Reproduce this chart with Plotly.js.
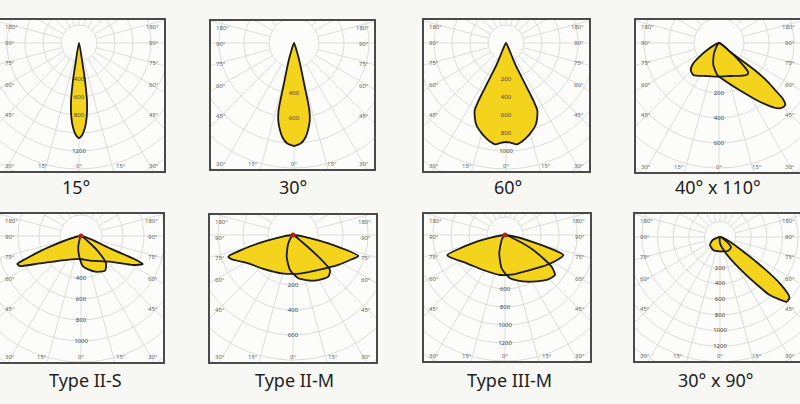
<!DOCTYPE html>
<html><head><meta charset="utf-8">
<script src="https://cdn.plot.ly/plotly-3.0.1.min.js"></script>
<style>html,body{margin:0;padding:0;background:#f7f7f4;} #chart{width:800px;height:404px;}</style>
</head><body><div id="chart"></div>
<script>
// ================= DATA =================
const captions = ['15°', '30°', '60°', '40° x 110°', 'Type II-S', 'Type II-M', 'Type III-M', '30° x 90°'];

// Each lobe: polar angle (deg, 0 = straight down, + = right) and relative intensity
const beam15Angle = [-10, -9.7, -9, -7.7, -6, -4, -2, 0, 2, 4, 6, 7.7, 9, 9.7, 10];
const beam15Cd    = [0, 20, 40, 60, 74, 85, 92, 95, 92, 85, 74, 60, 40, 20, 0];

const beam30Angle = [-21, -18.5, -16.5, -15, -14, -13.6, -13.3, -12.8, -11.5, -9.5, -7, -4, 0, 4, 7, 9.5, 11.5, 12.8, 13.3, 13.6, 14, 15, 16.5, 18.5, 21];
const beam30Cd    = [0, 10, 20, 30, 40, 50, 60, 70, 79, 87, 95, 100.5, 103, 100.5, 95, 87, 79, 70, 60, 50, 40, 30, 20, 10, 0];

const beam60Angle = [-28, -26, -24, -23.5, -24.6, -25, -25.3, -25.5, -25, -23, -20, -15.5, -12, -9, -6, -3, 0, 3, 6, 9, 12, 15.5, 20, 23, 25, 25.5, 25.3, 25, 24.6, 23.5, 24, 26, 28];
const beam60Cd    = [0, 6, 15, 25, 38, 45, 55, 64, 74, 80, 87, 93, 97, 100, 102, 100, 99, 100, 102, 100, 97, 93, 87, 80, 74, 64, 55, 45, 38, 25, 15, 6, 0];

const asymMainAngle = [-30, -25.9, -14.5, -3, 7, 24, 35, 41.5, 44.5, 47.1, 48.8, 49.8, 51.5, 52.7, 52.5, 51.7, 53];
const asymMainCd    = [0, 11.5, 22.7, 32, 37, 52, 72, 87, 90.5, 90.5, 85, 75.5, 62, 47.4, 30, 14, 0];
const asymSideAngle = [-62, -58.1, -51.7, -46.3, -38.8, -20.4, -1.2, 18.4, 40.9, 45, 48.3, 51.7, 53];
const asymSideCd    = [0, 16.5, 32.7, 39.1, 41, 35.2, 33.7, 34.8, 42.3, 41.4, 28.1, 14, 0];

const t2sMainAngle = [-76, -71, -67.5, -66.3, -63.8, -56.3, -30.8, -2.5, 20, 48.5, 61, 65.6, 66.5, 67, 72];
const t2sMainCd    = [0, 32.8, 60, 69.6, 68, 49.3, 27.9, 23, 26.3, 38.7, 59.8, 67.8, 60, 31.5, 0];
const t2sSideAngle = [-20, -14.2, -4.7, 4.3, 21.4, 34.7, 42.5, 47.8, 52, 55];
const t2sSideCd    = [0, 11, 20.8, 30.8, 38.3, 42.2, 37, 23.4, 9.3, 0];

const t2mMainAngle = [-80, -76.5, -71.5, -68.4, -57.7, -43.2, -16.4, 12.8, 35.9, 56.5, 67.5, 72.2, 76.8, 80];
const t2mMainCd    = [0, 35.7, 68.2, 65.9, 52.9, 45.7, 39.9, 39.3, 43.2, 54.3, 63.5, 68.6, 36.3, 0];
const t2mSideAngle = [-35, -29.5, -16.2, -4.9, 7, 25.7, 40.3, 46.6, 49.4, 52.4, 55];
const t2mSideCd    = [0, 9.5, 22.6, 35.1, 43.6, 50.7, 54.6, 50.9, 33.3, 11, 0];

const t3mMainAngle = [-80, -76.7, -70.9, -67.9, -53.5, -31.8, -7.1, 14.4, 35.5, 54.3, 67, 71.1, 75.3, 79];
const t3mMainCd    = [0, 29.1, 61.1, 59.3, 47.6, 41.2, 40.3, 40.3, 43, 51.4, 59.7, 61.6, 32.8, 0];
const t3mSideAngle = [-38, -33.4, -17.3, -5.7, 6.6, 24.9, 42.8, 51.3, 55.8, 62.1, 66.7, 69];
const t3mSideCd    = [0, 6, 19.2, 33.5, 43.6, 51.5, 61.3, 64, 56.4, 32, 10.9, 0];

const asym2MainAngle = [-5, 0, 21, 34.5, 40.5, 43.2, 45.9, 49, 52, 55.5, 64.8, 68];
const asym2MainCd    = [0, 6.3, 18.5, 46, 76, 85, 93, 92, 77, 45, 11, 0];
const asym2SideAngle = [-75, -67.7, -51.3, -27.3, 0, 31.2, 46.9, 55, 60];
const asym2SideCd    = [0, 7.9, 12.8, 14.6, 14.3, 16, 15.1, 8.2, 0];

// ring value labels (intensity scale) along the 0° ray
const ringIdx15 = [2, 3, 4, 6];          const ringTxt15 = ['400', '600', '800', '1200'];
const ringIdx30 = [2, 3];                const ringTxt30 = ['400', '600'];
const ringIdx60 = [2, 3, 4, 5, 6];       const ringTxt60 = ['200', '400', '600', '800', '1000'];
const ringIdx40x110 = [2, 3, 4];         const ringTxt40x110 = ['200', '400', '600'];
const ringIdxT2S = [2, 3, 4, 5];         const ringTxtT2S = ['400', '600', '800', '1000'];
const ringIdxT2M = [2, 3, 4];            const ringTxtT2M = ['200', '400', '600'];
const ringIdxT3M = [3, 4, 5, 6];         const ringTxtT3M = ['600', '800', '1000', '1200'];
const ringIdx30x90 = [2, 3, 4, 5, 6, 7]; const ringTxt30x90 = ['200', '400', '600', '800', '1000', '1200'];

// angle labels on the frame
const sideAngleLabels = ['180°', '90°', '75°', '60°', '45°'];
const bottomAngleLabels = ['30°', '15°', '0°', '15°', '30°'];

// ================= LAYOUT / GEOMETRY =================
const W = 800, H = 404;
const panels = [
  {box: [0, 20, 164, 171],   c: [79, 43],   step: 18,   lobes: [[beam15Angle, beam15Cd]], ri: ringIdx15, rt: ringTxt15, dot: false, cap: [76, 187]},
  {box: [211, 21, 374, 169], c: [294, 43],  step: 25,   lobes: [[beam30Angle, beam30Cd]], ri: ringIdx30, rt: ringTxt30, dot: false, cap: [293, 187]},
  {box: [424, 20, 589, 171], c: [506, 43],  step: 18,   lobes: [[beam60Angle, beam60Cd]], ri: ringIdx60, rt: ringTxt60, dot: false, cap: [508, 187]},
  {box: [636, 20, 800, 172], c: [719, 43],  step: 25,   lobes: [[asymMainAngle, asymMainCd], [asymSideAngle, asymSideCd]], ri: ringIdx40x110, rt: ringTxt40x110, dot: false, cap: [718, 187]},
  {box: [0, 214, 163, 362],  c: [81, 236],  step: 21,   lobes: [[t2sMainAngle, t2sMainCd], [t2sSideAngle, t2sSideCd]], ri: ringIdxT2S, rt: ringTxtT2S, dot: true, cap: [85, 380]},
  {box: [210, 215, 376, 362],c: [293, 235], step: 25,   lobes: [[t2mMainAngle, t2mMainCd], [t2mSideAngle, t2mSideCd]], ri: ringIdxT2M, rt: ringTxtT2M, dot: true, cap: [294, 380]},
  {box: [424, 214, 590, 361],c: [505, 235], step: 18,   lobes: [[t3mMainAngle, t3mMainCd], [t3mSideAngle, t3mSideCd]], ri: ringIdxT3M, rt: ringTxtT3M, dot: true, cap: [509, 380]},
  {box: [635, 214, 800, 361],c: [720, 237], step: 15.6, lobes: [[asym2MainAngle, asym2MainCd], [asym2SideAngle, asym2SideCd]], ri: ringIdx30x90, rt: ringTxt30x90, dot: false, cap: [715, 380]}
];

const rad = d => d * Math.PI / 180;
const px = (a, r) => r * Math.sin(rad(a));
const py = (a, r) => -r * Math.cos(rad(a));

const traces = [];
const layout = {
  width: W, height: H, margin: {l: 0, r: 0, t: 0, b: 0},
  paper_bgcolor: '#f7f7f4', plot_bgcolor: '#fcfcfa',
  showlegend: false, annotations: [], font: {family: 'Noto Sans, sans-serif'}
};

panels.forEach((p, i) => {
  const n = i === 0 ? '' : String(i + 1);
  const xa = 'x' + n, ya = 'y' + n;
  const [x0, y0, x1, y1] = p.box;
  const [cx, cy] = p.c;
  const axCommon = {showgrid: false, zeroline: false, showticklabels: false, ticks: '',
    showline: true, mirror: true, linecolor: '#4a4a4a', linewidth: 1.6, fixedrange: true};
  layout['xaxis' + n] = Object.assign({}, axCommon, {domain: [x0 / W, x1 / W], range: [x0 - cx, x1 - cx], anchor: ya});
  layout['yaxis' + n] = Object.assign({}, axCommon, {domain: [1 - y1 / H, 1 - y0 / H], range: [-(y1 - cy), cy - y0], anchor: xa});

  // polar grid: rings
  const rMax = 175;
  const gx = [], gy = [];
  for (let k = 1; k * p.step <= rMax; k++) {
    const r = k * p.step;
    for (let a = 0; a <= 360; a += 3) { gx.push(px(a, r)); gy.push(py(a, r)); }
    gx.push(null); gy.push(null);
  }
  // rays
  for (let a = 0; a < 360; a += 15) {
    gx.push(px(a, p.step), px(a, rMax), null);
    gy.push(py(a, p.step), py(a, rMax), null);
  }
  traces.push({type: 'scatter', mode: 'lines', x: gx, y: gy, xaxis: xa, yaxis: ya,
    line: {color: '#dcdcd8', width: 1}, hoverinfo: 'skip'});

  // lobe fills
  p.lobes.forEach(([ang, cd]) => {
    traces.push({type: 'scatter', mode: 'lines', xaxis: xa, yaxis: ya,
      x: ang.map((a, j) => px(a, cd[j])), y: ang.map((a, j) => py(a, cd[j])),
      fill: 'toself', fillcolor: '#f4d31c', line: {width: 0, shape: 'spline', smoothing: 0.6}, hoverinfo: 'skip'});
  });
  // lobe outlines
  p.lobes.forEach(([ang, cd]) => {
    traces.push({type: 'scatter', mode: 'lines', xaxis: xa, yaxis: ya,
      x: ang.map((a, j) => px(a, cd[j])), y: ang.map((a, j) => py(a, cd[j])),
      line: {color: '#1c1a14', width: 1.8, shape: 'spline', smoothing: 0.6}, hoverinfo: 'skip'});
  });
  // ring labels
  traces.push({type: 'scatter', mode: 'text', xaxis: xa, yaxis: ya,
    x: p.ri.map(() => 0), y: p.ri.map(k => -k * p.step), text: p.rt,
    textfont: {size: 6, color: '#444'}, hoverinfo: 'skip'});
  if (p.dot) {
    traces.push({type: 'scatter', mode: 'markers', xaxis: xa, yaxis: ya, x: [0], y: [0],
      marker: {color: '#b3261e', size: 5}, hoverinfo: 'skip'});
  }

  // frame angle labels
  const rows = [7, 23, 43, 65, 95];
  const lab = (x, y, t, anchor) => layout.annotations.push({xref: 'paper', yref: 'paper', x: x / W, y: 1 - y / H,
    text: t, showarrow: false, xanchor: anchor, yanchor: 'middle', font: {size: 6, color: '#666'}});
  rows.forEach((dy, j) => {
    lab(x0 + 3, y0 + dy, sideAngleLabels[j], 'left');
    lab(x1 - 3, y0 + dy, sideAngleLabels[j], 'right');
  });
  const w = x1 - x0;
  const bx = [x0 + 3, x0 + 0.26 * w, cx, x1 - 0.26 * w, x1 - 3];
  const ba = ['left', 'center', 'center', 'center', 'right'];
  bx.forEach((x, j) => lab(x, y1 - 5, bottomAngleLabels[j], ba[j]));

  // caption
  layout.annotations.push({xref: 'paper', yref: 'paper', x: p.cap[0] / W, y: 1 - p.cap[1] / H,
    text: captions[i], showarrow: false, xanchor: 'center', yanchor: 'middle',
    font: {size: 18, color: '#1e1e1e', family: 'Noto Sans, sans-serif'}});
});

Plotly.newPlot('chart', traces, layout, {staticPlot: true, displayModeBar: false});
</script>
</body></html>
